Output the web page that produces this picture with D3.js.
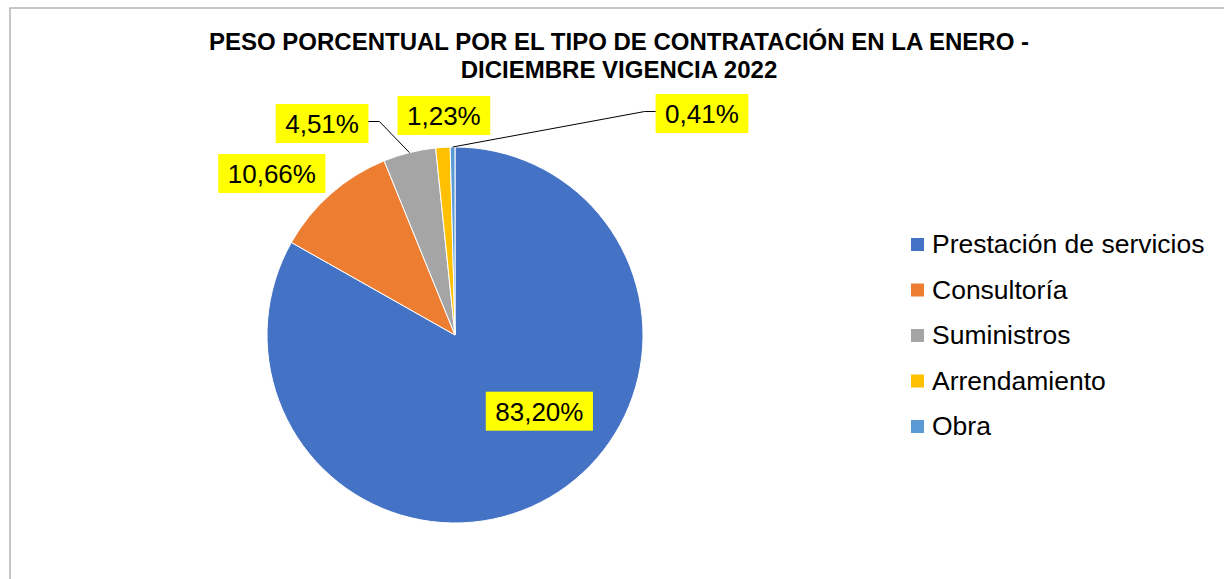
<!DOCTYPE html>
<html>
<head>
<meta charset="utf-8">
<script src="https://cdn.jsdelivr.net/npm/d3@7"></script>
<style>
  html, body { margin: 0; padding: 0; background: #fff; }
  text { font-family: "Liberation Sans", Arial, sans-serif; }
</style>
</head>
<body>
<div id="chart"></div>
<script>
// data
const categories = ["Prestación de servicios", "Consultoría", "Suministros", "Arrendamiento", "Obra"];
const values = [83.20, 10.66, 4.51, 1.23, 0.41];
const colors = ["#4472C4", "#ED7D31", "#A5A5A5", "#FFC000", "#5B9BD5"];
const titleLines = ["PESO PORCENTUAL POR EL TIPO DE CONTRATACIÓN EN LA ENERO -", "DICIEMBRE VIGENCIA 2022"];

// label placement tweaks (Excel "best fit" look)
const labelInside = [true, false, false, false, false];
const labelNudge = [[37, -5], [-28, 15], [-76, 16.5], [4, 15], [250, 13.5]];
const showLeader = [false, false, true, false, true];

const width = 1224;
const height = 579;
const cx = 455, cy = 335, radius = 188;

const svg = d3.select("#chart")
    .append("svg")
    .attr("width", width)
    .attr("height", height);

// chart frame (only top/left edges are inside the picture)
svg.append("rect")
    .attr("x", 10)
    .attr("y", 8)
    .attr("width", 1400)
    .attr("height", 800)
    .attr("fill", "none")
    .attr("stroke", "#b4b4b4")
    .attr("stroke-width", 1.5);

// title
svg.append("g").selectAll("text")
    .data(titleLines)
    .join("text")
    .attr("x", 619)
    .attr("y", (d, i) => 50 + i * 28)
    .attr("text-anchor", "middle")
    .attr("font-size", "24px")
    .attr("font-weight", "bold")
    .attr("fill", "#000")
    .text(d => d);

// pie
const pie = d3.pie().sort(null).value(d => d);
const arcs = pie(values);

const arc = d3.arc().innerRadius(0).outerRadius(radius);
const edgeArc = d3.arc().innerRadius(radius).outerRadius(radius);
const outerArc = d3.arc().innerRadius(radius * 1.25).outerRadius(radius * 1.25);

const g = svg.append("g")
    .attr("transform", `translate(${cx},${cy})`);

g.selectAll("path")
    .data(arcs)
    .join("path")
    .attr("d", arc)
    .attr("fill", (d, i) => colors[i])
    .attr("stroke", "#fff")
    .attr("stroke-width", 1);

// labels
const fmt = v => d3.format(".2f")(v).replace(".", ",") + "%";
const boxH = 39, padX = 9.5, labelSize = 26;

const labelG = g.append("g");
arcs.forEach((d, i) => {
    const base = labelInside[i] ? arc.centroid(d) : outerArc.centroid(d);
    const lx = base[0] + labelNudge[i][0];
    const ly = base[1] + labelNudge[i][1];

    const lg = labelG.append("g");
    const rect = lg.append("rect").attr("fill", "#FFFF00");
    const t = lg.append("text")
        .attr("x", lx)
        .attr("y", ly + labelSize * 0.36)
        .attr("text-anchor", "middle")
        .attr("font-size", labelSize + "px")
        .attr("fill", "#000")
        .text(fmt(values[i]));
    const w = t.node().getComputedTextLength() + 2 * padX;
    rect.attr("x", lx - w / 2)
        .attr("y", ly - boxH / 2)
        .attr("width", w)
        .attr("height", boxH);

    if (showLeader[i]) {
        const edge = edgeArc.centroid(d);
        const side = lx > edge[0] ? -1 : 1; // box is right of the point -> attach on left edge
        const bx = lx + side * w / 2;
        const elbowX = bx + side * 11;
        const yy = ly - 2;
        labelG.append("polyline")
            .attr("points", `${bx},${yy} ${elbowX},${yy} ${edge[0]},${edge[1]}`)
            .attr("fill", "none")
            .attr("stroke", "#000")
            .attr("stroke-width", 1);
    }
});

// legend
const legend = svg.append("g")
    .attr("transform", "translate(911,238)");

const item = legend.selectAll("g")
    .data(categories)
    .join("g")
    .attr("transform", (d, i) => `translate(0,${i * 45.5})`);

item.append("rect")
    .attr("width", 13)
    .attr("height", 13)
    .attr("fill", (d, i) => colors[i]);

item.append("text")
    .attr("x", 21)
    .attr("y", 15)
    .attr("font-size", "26.5px")
    .attr("fill", "#000")
    .text(d => d);
</script>
</body>
</html>
